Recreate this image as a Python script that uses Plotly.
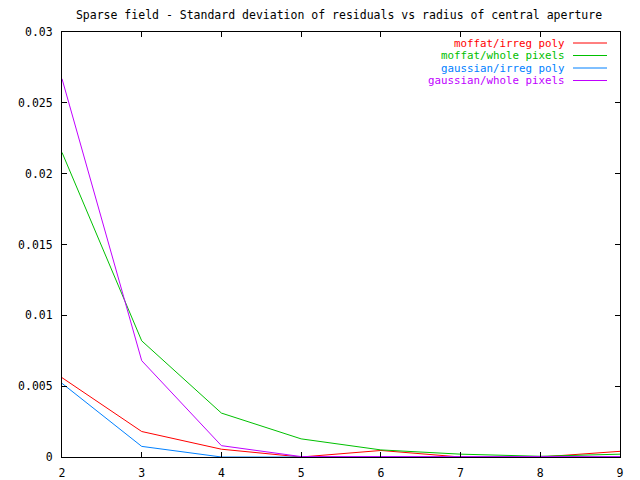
import plotly.graph_objects as go

radius = [2, 3, 4, 5, 6, 7, 8, 9]
moffat_irreg = [0.0056, 0.0018, 0.00055, 0.0, 0.00046, 0.0, 0.0, 0.0004]
moffat_whole = [0.0215, 0.0082, 0.0031, 0.00128, 0.0005, 0.0002, 0.00005, 0.0002]
gauss_irreg = [0.0052, 0.00075, 0.0, 0.0, 0.0, 0.0, 0.0, 0.0]
gauss_whole = [0.0267, 0.0068, 0.0008, 0.00003, 0.00003, 0.00003, 0.00003, 0.00003]

names = ["moffat/irreg poly", "moffat/whole pixels", "gaussian/irreg poly", "gaussian/whole pixels"]
colors = ["#ff0000", "#00c000", "#0080ff", "#c000ff"]
series = [moffat_irreg, moffat_whole, gauss_irreg, gauss_whole]

y_ticks = [0, 0.005, 0.01, 0.015, 0.02, 0.025, 0.03]
y_tick_labels = ["0", "0.005", "0.01", "0.015", "0.02", "0.025", "0.03"]
x_ticks = [2, 3, 4, 5, 6, 7, 8, 9]

FONT = "DejaVu Sans Mono"
FS = 11.5

fig = go.Figure()
for name, col, ys in zip(names, colors, series):
    fig.add_trace(go.Scatter(x=radius, y=ys, mode="lines", name=name,
                             line=dict(color=col, width=1), showlegend=False))

# custom gnuplot-style legend (text right-aligned, sample line at right)
# plot area: x 62..620, y 32..457 (pixels)
row_px = [43, 55.5, 68, 80.5]
for name, col, py in zip(names, colors, row_px):
    yy = (457 - py) / 425
    fig.add_annotation(xref="paper", yref="paper", x=(566 - 62) / 558, y=yy, text=name,
                       showarrow=False, xanchor="right", yanchor="middle", borderpad=0,
                       font=dict(family=FONT, size=10.8, color=col))
    fig.add_shape(type="line", xref="paper", yref="paper",
                  x0=(573 - 62) / 558, x1=(607 - 62) / 558,
                  y0=yy, y1=yy, line=dict(color=col, width=1))

fig.update_layout(
    width=640, height=480,
    margin=dict(l=62, r=20, t=32, b=23, autoexpand=False),
    paper_bgcolor="white", plot_bgcolor="white",
    title=dict(text="Sparse field - Standard deviation of residuals vs radius of central aperture",
               x=339/640, xref="container", xanchor="center",
               y=1 - 15/480, yref="container", yanchor="middle",
               font=dict(family=FONT, size=FS, color="black")),
    font=dict(family=FONT, size=FS, color="black"),
)
fig.update_xaxes(range=[2, 9], tickvals=x_ticks, ticks="inside", ticklen=5,
                 tickcolor="black", showline=True, linecolor="black", linewidth=1,
                 mirror="allticks", showgrid=False, zeroline=False, automargin=False,
                 ticklabelstandoff=5, tickfont=dict(family=FONT, size=FS))
fig.update_yaxes(range=[0, 0.03], tickvals=y_ticks, ticktext=y_tick_labels,
                 ticks="inside", ticklen=5, tickcolor="black", showline=True,
                 linecolor="black", linewidth=1, mirror="allticks", showgrid=False,
                 zeroline=False, automargin=False,
                 ticklabelstandoff=6, tickfont=dict(family=FONT, size=FS))

fig.write_html("out.html", config={"displayModeBar": False},
               post_script="document.body.style.margin='0';document.body.style.overflow='hidden';")
